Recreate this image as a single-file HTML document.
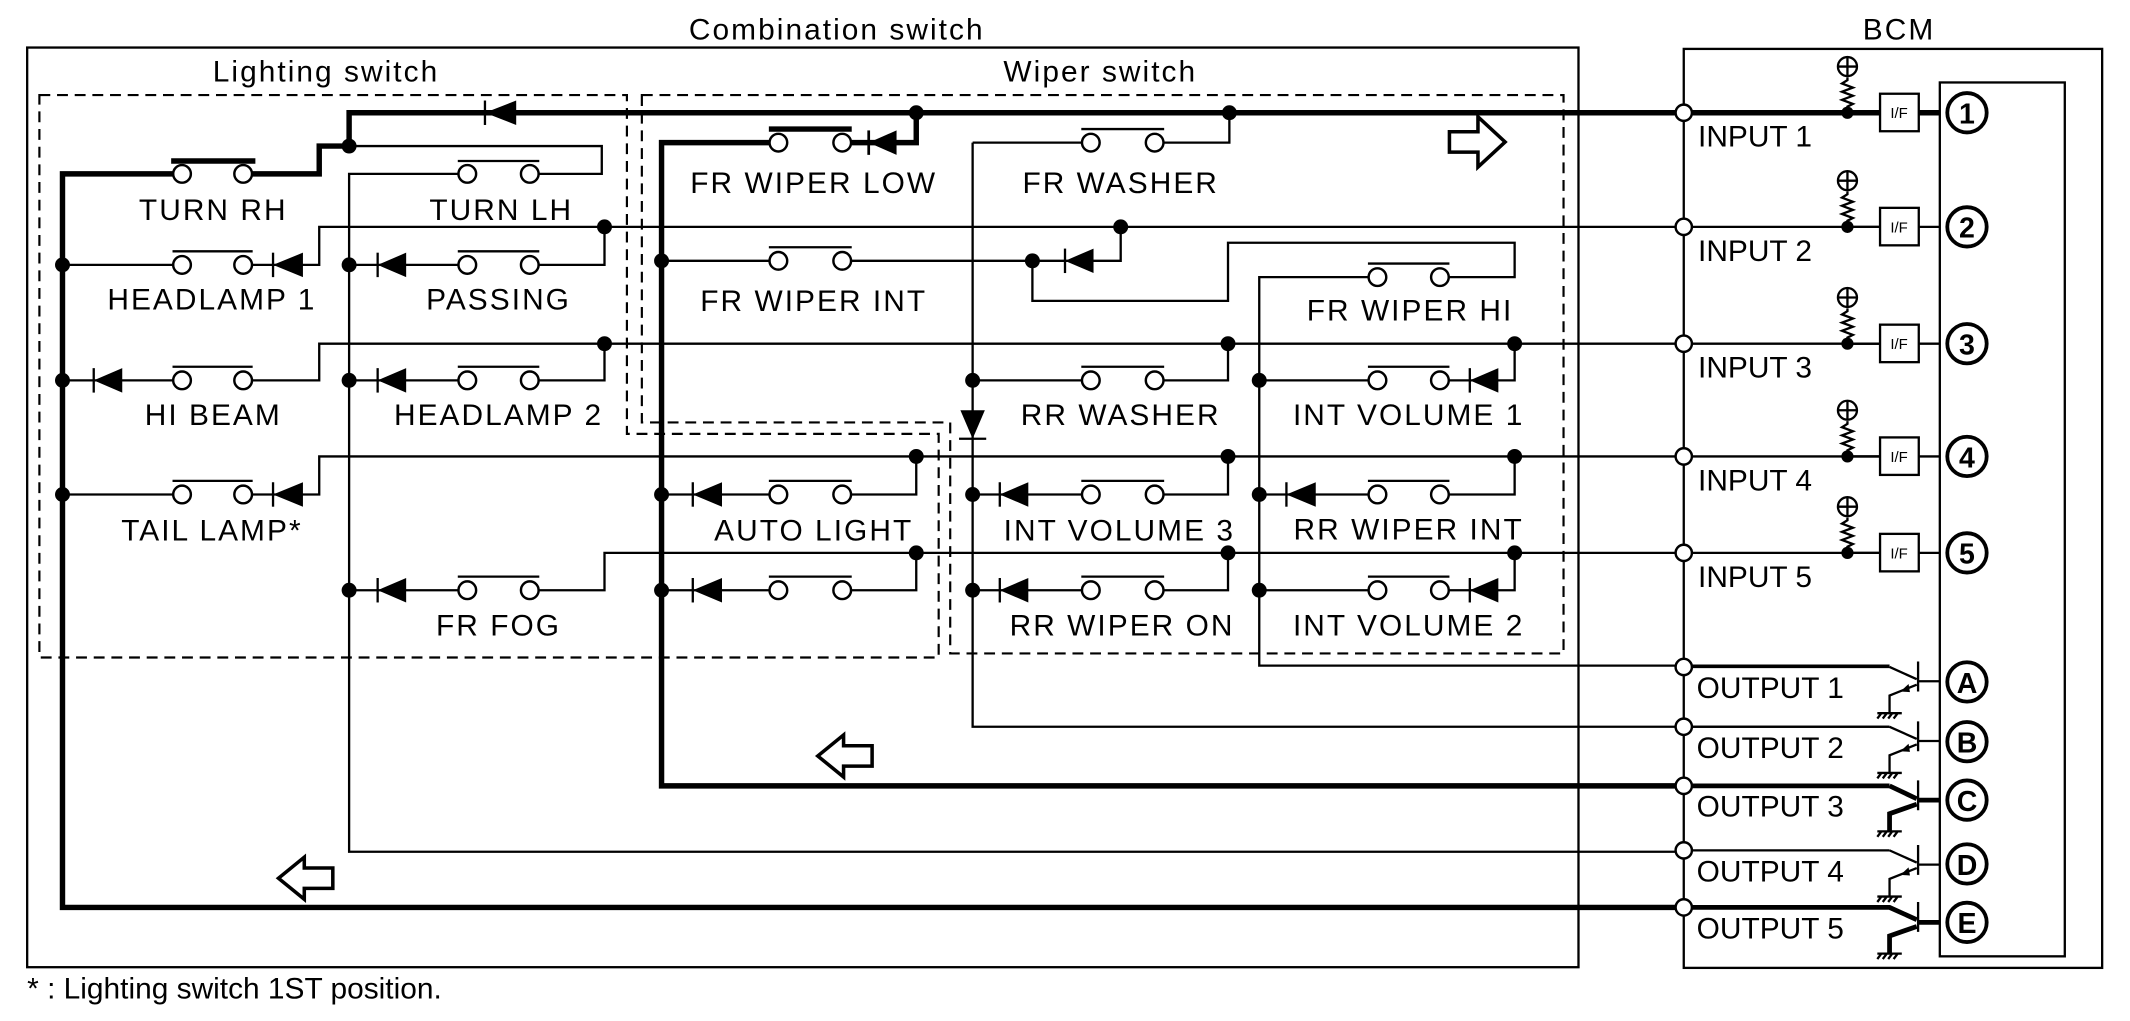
<!DOCTYPE html>
<html><head><meta charset="utf-8"><style>
html,body{margin:0;padding:0;background:#fff;}
svg{display:block;}
text{font-family:"Liberation Sans",sans-serif;font-size:22px;fill:#000;}
.l{letter-spacing:1.5px;text-anchor:middle;}
.t{fill:none;stroke:#000;stroke-width:1.7;}
.k{fill:none;stroke:#000;stroke-width:4;}
.d{fill:none;stroke:#000;stroke-width:1.6;stroke-dasharray:8,5;}
.c{fill:#fff;stroke:#000;stroke-width:1.8;}
.n{fill:#000;}
.b{font-weight:bold;font-size:21px;text-anchor:middle;}
</style></head><body>
<svg width="2130" height="1021" viewBox="0 0 1568 751.6" xmlns="http://www.w3.org/2000/svg">
<!-- titles -->
<text x="616" y="29" class="l">Combination switch</text>
<text x="1398" y="29" class="l">BCM</text>
<text x="240" y="60" class="l">Lighting switch</text>
<text x="810" y="60" class="l">Wiper switch</text>
<!-- boxes -->
<rect x="20" y="35" width="1142" height="677" class="t"/>
<rect x="1239.5" y="36" width="308" height="676.5" class="t"/>
<rect x="1428" y="60.7" width="92" height="643.3" class="t"/>
<!-- dashed -->
<path d="M29,70 L461.5,70 L461.5,319.4 L691,319.4 L691,484 L29,484 Z" class="d"/>
<path d="M472.5,70 L1151,70 L1151,481 L699.5,481 L699.5,311 L472.5,311 Z" class="d"/>

<!-- ===== Lighting switch ===== -->
<path d="M1239,668 L46,668 L46,128 L134,128 M179,128 L235,128 L235,107.5 L257,107.5 L257,83 L1428,83" class="k"/>
<path d="M126,118.5 L188,118.5" class="k"/>
<polygon points="380,74 380,92 357,83" class="n"/><path d="M357,74 L357,92" class="t"/>
<path d="M344,128 L257,128 L257,627 L1239,627" class="t"/>
<path d="M257,107.5 L443,107.5 L443,128 L390,128" class="t"/>
<path d="M337,118.5 L397,118.5" class="t"/>
<!-- HEADLAMP1 -->
<path d="M46,195 L134,195 M179,195 L235,195 L235,167 L1384,167" class="t"/>
<path d="M127,185 L186,185" class="t"/>
<polygon points="223,186 223,204 201,195" class="n"/><path d="M201,186 L201,204" class="t"/>
<!-- PASSING -->
<path d="M257,195 L344,195 M390,195 L445,195 L445,167" class="t"/>
<path d="M337,185 L397,185" class="t"/>
<polygon points="299,186 299,204 278,195" class="n"/><path d="M278,186 L278,204" class="t"/>
<!-- HI BEAM -->
<path d="M46,280 L134,280 M179,280 L235,280 L235,253 L1384,253" class="t"/>
<path d="M127,270 L186,270" class="t"/>
<polygon points="90,271 90,289 69,280" class="n"/><path d="M69,271 L69,289" class="t"/>
<!-- HEADLAMP2 -->
<path d="M257,280 L344,280 M390,280 L445,280 L445,253" class="t"/>
<path d="M337,270 L397,270" class="t"/>
<polygon points="299,271 299,289 278,280" class="n"/><path d="M278,271 L278,289" class="t"/>
<!-- TAIL -->
<path d="M46,364 L134,364 M179,364 L235,364 L235,336 L1384,336" class="t"/>
<path d="M127,354 L186,354" class="t"/>
<polygon points="223,355 223,373 201,364" class="n"/><path d="M201,355 L201,373" class="t"/>
<!-- FR FOG -->
<path d="M257,434.5 L344,434.5 M390,434.5 L445,434.5 L445,407 L1384,407" class="t"/>
<path d="M337,424.5 L397,424.5" class="t"/>
<polygon points="299,425.5 299,443.5 278,434.5" class="n"/><path d="M278,425.5 L278,443.5" class="t"/>

<!-- ===== Wiper switch ===== -->
<path d="M1239,578.5 L487,578.5 L487,105 L573,105 M620,105 L674.5,105 L674.5,83" class="k"/>
<path d="M566,95 L627,95" class="k"/>
<polygon points="660,96 660,114 639.5,105" class="n"/><path d="M639.5,96 L639.5,114" class="k" style="stroke-width:2"/>
<!-- FR WIPER INT -->
<path d="M487,192 L573,192 M620,192 L760,192" class="t"/>
<path d="M566,182 L627,182" class="t"/>
<path d="M760,192 L825,192 L825,167" class="t"/>
<polygon points="805,183 805,201 784,192" class="n"/><path d="M784,183 L784,201" class="t"/>
<path d="M760,192 L760,221.5 L904,221.5 L904,178.7 L1115,178.7 L1115,204 L1060,204" class="t"/>
<!-- FR WIPER HI -->
<path d="M1014,204 L927,204 L927,490 L1391,490" class="t"/>
<path d="M1007,194 L1067,194" class="t"/>
<!-- FR WASHER -->
<path d="M716,105 L803,105 M850,105 L905,105 L905,83" class="t"/>
<path d="M796,95 L857,95" class="t"/>
<path d="M716,105 L716,535 L1391,535" class="t"/>
<polygon points="707,302 725,302 716,323" class="n"/><path d="M706,323 L726,323" class="t"/>
<!-- RR WASHER -->
<path d="M716,280 L803,280 M850,280 L904,280 L904,253" class="t"/>
<path d="M796,270 L857,270" class="t"/>
<!-- INT VOL 1 -->
<path d="M927,280 L1014,280 M1060,280 L1115,280 L1115,253" class="t"/>
<path d="M1007,270 L1067,270" class="t"/>
<polygon points="1103,271 1103,289 1082,280" class="n"/><path d="M1082,271 L1082,289" class="t"/>
<!-- INT VOL 3 -->
<path d="M716,364 L803,364 M850,364 L904,364 L904,336" class="t"/>
<path d="M796,354 L857,354" class="t"/>
<polygon points="757,355 757,373 736,364" class="n"/><path d="M736,355 L736,373" class="t"/>
<!-- RR WIPER INT -->
<path d="M927,364 L1014,364 M1060,364 L1115,364 L1115,336" class="t"/>
<path d="M1007,354 L1067,354" class="t"/>
<polygon points="968.6,355 968.6,373 947,364" class="n"/><path d="M947,355 L947,373" class="t"/>
<!-- RR WIPER ON -->
<path d="M716,434.5 L803,434.5 M850,434.5 L904,434.5 L904,407" class="t"/>
<path d="M796,424.5 L857,424.5" class="t"/>
<polygon points="757,425.5 757,443.5 736,434.5" class="n"/><path d="M736,425.5 L736,443.5" class="t"/>
<!-- INT VOL 2 -->
<path d="M927,434.5 L1014,434.5 M1060,434.5 L1115,434.5 L1115,407" class="t"/>
<path d="M1007,424.5 L1067,424.5" class="t"/>
<polygon points="1103,425.5 1103,443.5 1082,434.5" class="n"/><path d="M1082,425.5 L1082,443.5" class="t"/>
<!-- AUTO LIGHT -->
<path d="M487,364 L573,364 M620,364 L674.5,364 L674.5,336" class="t"/>
<path d="M566,354 L627,354" class="t"/>
<polygon points="531.5,355 531.5,373 510,364" class="n"/><path d="M510,355 L510,373" class="t"/>
<path d="M487,434.5 L573,434.5 M620,434.5 L674.5,434.5 L674.5,407" class="t"/>
<path d="M566,424.5 L627,424.5" class="t"/>
<polygon points="531.5,425.5 531.5,443.5 510,434.5" class="n"/><path d="M510,425.5 L510,443.5" class="t"/>

<!-- contacts -->
<g class="c">
<circle cx="134" cy="128" r="6.5"/><circle cx="179" cy="128" r="6.5"/>
<circle cx="344" cy="128" r="6.5"/><circle cx="390" cy="128" r="6.5"/>
<circle cx="134" cy="195" r="6.5"/><circle cx="179" cy="195" r="6.5"/>
<circle cx="344" cy="195" r="6.5"/><circle cx="390" cy="195" r="6.5"/>
<circle cx="134" cy="280" r="6.5"/><circle cx="179" cy="280" r="6.5"/>
<circle cx="344" cy="280" r="6.5"/><circle cx="390" cy="280" r="6.5"/>
<circle cx="134" cy="364" r="6.5"/><circle cx="179" cy="364" r="6.5"/>
<circle cx="344" cy="434.5" r="6.5"/><circle cx="390" cy="434.5" r="6.5"/>
<circle cx="573" cy="105" r="6.5"/><circle cx="620" cy="105" r="6.5"/>
<circle cx="573" cy="192" r="6.5"/><circle cx="620" cy="192" r="6.5"/>
<circle cx="573" cy="364" r="6.5"/><circle cx="620" cy="364" r="6.5"/>
<circle cx="573" cy="434.5" r="6.5"/><circle cx="620" cy="434.5" r="6.5"/>
<circle cx="803" cy="105" r="6.5"/><circle cx="850" cy="105" r="6.5"/>
<circle cx="803" cy="280" r="6.5"/><circle cx="850" cy="280" r="6.5"/>
<circle cx="803" cy="364" r="6.5"/><circle cx="850" cy="364" r="6.5"/>
<circle cx="803" cy="434.5" r="6.5"/><circle cx="850" cy="434.5" r="6.5"/>
<circle cx="1014" cy="204" r="6.5"/><circle cx="1060" cy="204" r="6.5"/>
<circle cx="1014" cy="280" r="6.5"/><circle cx="1060" cy="280" r="6.5"/>
<circle cx="1014" cy="364" r="6.5"/><circle cx="1060" cy="364" r="6.5"/>
<circle cx="1014" cy="434.5" r="6.5"/><circle cx="1060" cy="434.5" r="6.5"/>
</g>
<!-- nodes -->
<g class="n">
<circle cx="46" cy="195" r="5.5"/><circle cx="46" cy="280" r="5.5"/><circle cx="46" cy="364" r="5.5"/>
<circle cx="257" cy="107.5" r="5.5"/><circle cx="257" cy="195" r="5.5"/><circle cx="257" cy="280" r="5.5"/><circle cx="257" cy="434.5" r="5.5"/>
<circle cx="445" cy="167" r="5.5"/><circle cx="445" cy="253" r="5.5"/>
<circle cx="674.5" cy="83" r="5.5"/><circle cx="905" cy="83" r="5.5"/>
<circle cx="487" cy="192" r="5.5"/><circle cx="487" cy="364" r="5.5"/><circle cx="487" cy="434.5" r="5.5"/>
<circle cx="674.5" cy="336" r="5.5"/><circle cx="674.5" cy="407" r="5.5"/>
<circle cx="760" cy="192" r="5.5"/><circle cx="825" cy="167" r="5.5"/>
<circle cx="716" cy="280" r="5.5"/><circle cx="716" cy="364" r="5.5"/><circle cx="716" cy="434.5" r="5.5"/>
<circle cx="904" cy="253" r="5.5"/><circle cx="904" cy="336" r="5.5"/><circle cx="904" cy="407" r="5.5"/>
<circle cx="1115" cy="253" r="5.5"/><circle cx="1115" cy="336" r="5.5"/><circle cx="1115" cy="407" r="5.5"/>
<circle cx="927" cy="280" r="5.5"/><circle cx="927" cy="364" r="5.5"/><circle cx="927" cy="434.5" r="5.5"/>
</g>

<!-- labels -->
<text x="157" y="162" class="l">TURN RH</text>
<text x="369" y="162" class="l">TURN LH</text>
<text x="156" y="228" class="l">HEADLAMP 1</text>
<text x="367" y="228" class="l">PASSING</text>
<text x="157" y="313" class="l">HI BEAM</text>
<text x="367" y="313" class="l">HEADLAMP 2</text>
<text x="156" y="398" class="l">TAIL LAMP*</text>
<text x="367" y="468" class="l">FR FOG</text>
<text x="599" y="142" class="l">FR WIPER LOW</text>
<text x="599" y="229" class="l">FR WIPER INT</text>
<text x="599" y="398" class="l">AUTO LIGHT</text>
<text x="825" y="142" class="l">FR WASHER</text>
<text x="825" y="313" class="l">RR WASHER</text>
<text x="824" y="398" class="l">INT VOLUME 3</text>
<text x="826" y="468" class="l">RR WIPER ON</text>
<text x="1038" y="236" class="l">FR WIPER HI</text>
<text x="1037" y="313" class="l">INT VOLUME 1</text>
<text x="1037" y="397" class="l">RR WIPER INT</text>
<text x="1037" y="468" class="l">INT VOLUME 2</text>

<!-- open arrows -->
<polygon points="1067,97 1088,97 1088,86 1108,104.5 1088,123 1088,112 1067,112" fill="#fff" stroke="#000" stroke-width="2.6"/>
<polygon points="642,549 621,549 621,541 602,556.5 621,572 621,564 642,564" fill="#fff" stroke="#000" stroke-width="2.6"/>
<polygon points="245,639 224,639 224,631 205,646.5 224,662 224,654 245,654" fill="#fff" stroke="#000" stroke-width="2.6"/>

<!-- BCM inputs -->
<g>
<path d="M1360,83 L1384,83 M1412.5,83 L1428,83" class="k"/>
<path d="M1360,167 L1384,167 M1412.5,167 L1428,167 M1360,253 L1384,253 M1412.5,253 L1428,253 M1360,336 L1384,336 M1412.5,336 L1428,336 M1360,407 L1384,407 M1412.5,407 L1428,407" class="t"/>
<g class="t" style="fill:#fff">
<rect x="1384" y="69" width="28.5" height="27.6"/><rect x="1384" y="153" width="28.5" height="27.6"/><rect x="1384" y="239" width="28.5" height="27.6"/><rect x="1384" y="322" width="28.5" height="27.6"/><rect x="1384" y="393" width="28.5" height="27.6"/>
</g>
<g style="font-size:11px;text-anchor:middle">
<text x="1398" y="87" style="font-size:11px">I/F</text><text x="1398" y="171" style="font-size:11px">I/F</text><text x="1398" y="257" style="font-size:11px">I/F</text><text x="1398" y="340" style="font-size:11px">I/F</text><text x="1398" y="411" style="font-size:11px">I/F</text>
</g>
<!-- resistors -->
<g class="t">
<path d="M1360,49 m0,8 l0,2 l-4,2.5 l8,3 l-8,3 l8,3 l-8,3 l8,3 l-4,2 l0,5"/>
<path d="M1360,133 m0,8 l0,2 l-4,2.5 l8,3 l-8,3 l8,3 l-8,3 l8,3 l-4,2 l0,5"/>
<path d="M1360,219 m0,8 l0,2 l-4,2.5 l8,3 l-8,3 l8,3 l-8,3 l8,3 l-4,2 l0,5"/>
<path d="M1360,302 m0,8 l0,2 l-4,2.5 l8,3 l-8,3 l8,3 l-8,3 l8,3 l-4,2 l0,5"/>
<path d="M1360,373 m0,8 l0,2 l-4,2.5 l8,3 l-8,3 l8,3 l-8,3 l8,3 l-4,2 l0,5"/>
<circle cx="1360" cy="49" r="7"/><path d="M1353,49 L1367,49 M1360,42 L1360,56"/>
<circle cx="1360" cy="133" r="7"/><path d="M1353,133 L1367,133 M1360,126 L1360,140"/>
<circle cx="1360" cy="219" r="7"/><path d="M1353,219 L1367,219 M1360,212 L1360,226"/>
<circle cx="1360" cy="302" r="7"/><path d="M1353,302 L1367,302 M1360,295 L1360,309"/>
<circle cx="1360" cy="373" r="7"/><path d="M1353,373 L1367,373 M1360,366 L1360,380"/>
</g>
<g class="n">
<circle cx="1360" cy="83" r="4.5"/><circle cx="1360" cy="167" r="4.5"/><circle cx="1360" cy="253" r="4.5"/><circle cx="1360" cy="336" r="4.5"/><circle cx="1360" cy="407" r="4.5"/>
</g>
<text x="1250" y="108">INPUT 1</text>
<text x="1250" y="192">INPUT 2</text>
<text x="1250" y="278">INPUT 3</text>
<text x="1250" y="361">INPUT 4</text>
<text x="1250" y="432">INPUT 5</text>
<text x="1249" y="514">OUTPUT 1</text>
<text x="1249" y="558">OUTPUT 2</text>
<text x="1249" y="601">OUTPUT 3</text>
<text x="1249" y="649">OUTPUT 4</text>
<text x="1249" y="691">OUTPUT 5</text>
<!-- circled ids -->
<g fill="#fff" stroke="#000" stroke-width="2.8">
<circle cx="1448" cy="83" r="14.5"/><circle cx="1448" cy="167" r="14.5"/><circle cx="1448" cy="253" r="14.5"/><circle cx="1448" cy="336" r="14.5"/><circle cx="1448" cy="407" r="14.5"/>
<circle cx="1448" cy="502" r="14.5"/><circle cx="1448" cy="546" r="14.5"/><circle cx="1448" cy="589" r="14.5"/><circle cx="1448" cy="636" r="14.5"/><circle cx="1448" cy="679" r="14.5"/>
</g>
<text x="1448" y="91" class="b">1</text><text x="1448" y="175" class="b">2</text><text x="1448" y="261" class="b">3</text><text x="1448" y="344" class="b">4</text><text x="1448" y="415" class="b">5</text>
<text x="1448" y="510" class="b">A</text><text x="1448" y="554" class="b">B</text><text x="1448" y="597" class="b">C</text><text x="1448" y="644" class="b">D</text><text x="1448" y="687" class="b">E</text>
</g>

<!-- transistors -->
<g class="t">
<path d="M1391,491 L1411,500 M1412,487 L1412,509 M1412,501.5 L1428,501.5 M1411,504 L1391,512 L1391,525 M1382,525 L1400,525 M1385,525 l-3,4 M1389,525 l-3,4 M1393,525 l-3,4 M1397,525 l-3,4"/>
<path d="M1391,535 L1411,544 M1412,531 L1412,553 M1412,545.5 L1428,545.5 M1411,548 L1391,556 L1391,569 M1382,569 L1400,569 M1385,569 l-3,4 M1389,569 l-3,4 M1393,569 l-3,4 M1397,569 l-3,4"/>
<path d="M1391,626 L1411,635 M1412,622 L1412,644 M1412,636.5 L1428,636.5 M1411,639 L1391,647 L1391,660 M1382,660 L1400,660 M1385,660 l-3,4 M1389,660 l-3,4 M1393,660 l-3,4 M1397,660 l-3,4"/>
<path d="M1382,612 L1400,612 M1385,612 l-3,4 M1389,612 l-3,4 M1393,612 l-3,4 M1397,612 l-3,4"/>
<path d="M1382,702 L1400,702 M1385,702 l-3,4 M1389,702 l-3,4 M1393,702 l-3,4 M1397,702 l-3,4"/>
<path d="M1412,574.5 L1412,596.5 M1412,664 L1412,686"/>
</g>
<g class="k" style="stroke-width:3.5">
<path d="M1391,578.5 L1411,588 M1412,589 L1428,589 M1411,592 L1391,599 L1391,612"/>
<path d="M1239,668 L1391,668 L1411,677 M1412,679 L1428,679 M1411,682 L1391,689 L1391,702"/>
<path d="M1239,578.5 L1391,578.5"/>
</g>
<path d="M1239,491 L1391,491 M1239,535 L1391,535 M1239,626 L1391,626" class="t"/>
<g class="n">
<polygon points="1399,509 1405,503.5 1406,509.5"/><polygon points="1399,553 1405,547.5 1406,553.5"/><polygon points="1399,644 1405,638.5 1406,644.5"/>
</g>

<!-- connector open circles on BCM edge (drawn last) -->
<g class="c">
<circle cx="1239.5" cy="83" r="6"/><circle cx="1239.5" cy="167" r="6"/><circle cx="1239.5" cy="253" r="6"/><circle cx="1239.5" cy="336" r="6"/><circle cx="1239.5" cy="407" r="6"/>
<circle cx="1239.5" cy="491" r="6"/><circle cx="1239.5" cy="535" r="6"/><circle cx="1239.5" cy="578.5" r="6"/><circle cx="1239.5" cy="626" r="6"/><circle cx="1239.5" cy="668" r="6"/>
</g>

<text x="20" y="735">* : Lighting switch 1ST position.</text>
</svg>
</body></html>
